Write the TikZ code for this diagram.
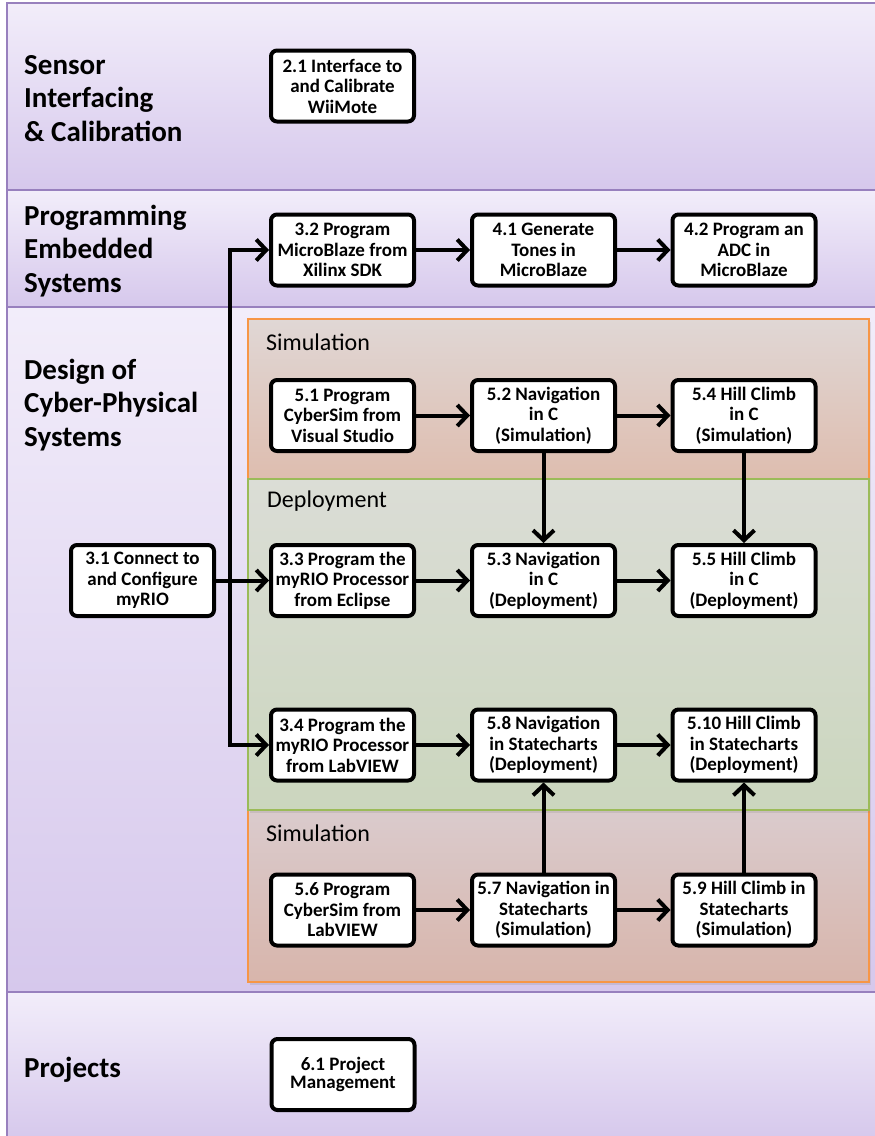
\documentclass[tikz,border=0pt]{standalone}
\usepackage{fontspec}
\setmainfont{Carlito}
\usetikzlibrary{arrows.meta,shadows}
\definecolor{bandtop}{HTML}{F2EDFA}
\definecolor{bandbot}{HTML}{D6C8EC}
\definecolor{bandline}{HTML}{9880BE}
\definecolor{simline}{HTML}{F79646}
\definecolor{simtop}{HTML}{E0D7D5}
\definecolor{simbot}{HTML}{DEBDAF}
\definecolor{simtopb}{HTML}{DACBCD}
\definecolor{simbotb}{HTML}{D8B5AB}
\definecolor{depline}{HTML}{9BBB59}
\definecolor{deptop}{HTML}{DBDDD6}
\definecolor{depbot}{HTML}{CBD6BE}
\begin{document}
\begin{tikzpicture}[x=1pt,y=-1pt,
    band/.style={top color=bandtop,bottom color=bandbot},
    lane/.style={anchor=west,align=left,inner sep=0pt,font=\bfseries\fontsize{29}{33.5}\selectfont},
    phase/.style={anchor=west,inner sep=0pt,font=\fontsize{24}{28}\selectfont},
    frame/.style={line width=2.5pt,drop shadow={shadow xshift=2pt,shadow yshift=-3pt,opacity=0.2}},
    task/.style={draw,line width=4pt,rounded corners=6pt,fill=white,align=center,
      minimum width=143pt,minimum height=71pt,inner sep=1pt,
      font=\bfseries\fontsize{19}{20.5}\selectfont},
    flow/.style={line width=4pt,-{Straight Barb[length=10pt,width=21pt]}}]
  \useasboundingbox (0,0) rectangle (875,1136);
  \path[band] (7,3) rectangle (880,190);
  \path[band] (7,190) rectangle (880,307);
  \path[band] (7,307) rectangle (880,992);
  \path[band] (7,992) rectangle (880,1140);
  \begin{scope}[bandline,line width=2.5pt]
    \draw (7,3) -- (880,3);
    \draw (7,190) -- (880,190);
    \draw (7,307) -- (880,307);
    \draw (7,992) -- (880,992);
    \draw (7,2) -- (7,1140);
  \end{scope}
  \draw[frame,simline,top color=simtop,bottom color=simbot] (248,319) rectangle (869,479);
  \draw[frame,simline,top color=simtopb,bottom color=simbotb] (248,810) rectangle (869,982);
  \draw[frame,depline,top color=deptop,bottom color=depbot] (248,479) rectangle (869,810);
  \node[lane] (l1) at (24,98.5) {Sensor\\Interfacing\\\& Calibration};
  \node[lane] (l2) at (24,251) {Programming\\Embedded\\Systems};
  \node[lane] (l3) at (24,405) {Design of\\Cyber-Physical\\Systems};
  \node[lane] (l4) at (24,1070) {Projects};
  \node[phase] (p1) at (266,342) {Simulation};
  \node[phase] (p2) at (267,501) {Deployment};
  \node[phase] (p3) at (266,833) {Simulation};
  \node[task] (t21) at (342.5,86) {2.1 Interface to\\and Calibrate\\WiiMote};
  \node[task] (t32) at (342.5,250) {3.2 Program\\MicroBlaze from\\Xilinx SDK};
  \node[task] (t41) at (543.5,250) {4.1 Generate\\Tones in\\MicroBlaze};
  \node[task] (t42) at (744,250) {4.2 Program an\\ADC in\\MicroBlaze};
  \node[task] (t51) at (342.5,415.5) {5.1 Program\\CyberSim from\\Visual Studio};
  \node[task] (t52) at (543.5,415.5) {5.2 Navigation\\in C\\(Simulation)};
  \node[task] (t54) at (744,415.5) {5.4 Hill Climb\\in C\\(Simulation)};
  \node[task] (t31) at (142.5,580.5) {3.1 Connect to\\and Configure\\myRIO};
  \node[task] (t33) at (342.5,580.5) {3.3 Program the\\myRIO Processor\\from Eclipse};
  \node[task] (t53) at (543.5,580.5) {5.3 Navigation\\in C\\(Deployment)};
  \node[task] (t55) at (744,580.5) {5.5 Hill Climb\\in C\\(Deployment)};
  \node[task] (t34) at (342.5,745) {3.4 Program the\\myRIO Processor\\from LabVIEW};
  \node[task] (t58) at (543.5,745) {5.8 Navigation\\in Statecharts\\(Deployment)};
  \node[task] (t510) at (744,745) {5.10 Hill Climb\\in Statecharts\\(Deployment)};
  \node[task] (t56) at (342.5,910) {5.6 Program\\CyberSim from\\LabVIEW};
  \node[task] (t57) at (543.5,910) {5.7 Navigation in\\Statecharts\\(Simulation)};
  \node[task] (t59) at (744,910) {5.9 Hill Climb in\\Statecharts\\(Simulation)};
  \node[task,font=\bfseries\fontsize{19}{18.5}\selectfont] (t61) at (343,1074.5) {6.1 Project\\Management};
  \coordinate (split) at (230,580.5);
  \draw[flow] (t31) -- (t33);
  \draw[flow] (split) |- (t32);
  \draw[flow] (split) |- (t34);
  \draw[flow] (t32) -- (t41);
  \draw[flow] (t41) -- (t42);
  \draw[flow] (t51) -- (t52);
  \draw[flow] (t52) -- (t54);
  \draw[flow] (t33) -- (t53);
  \draw[flow] (t53) -- (t55);
  \draw[flow] (t34) -- (t58);
  \draw[flow] (t58) -- (t510);
  \draw[flow] (t56) -- (t57);
  \draw[flow] (t57) -- (t59);
  \draw[flow] (t52) -- (t53);
  \draw[flow] (t54) -- (t55);
  \draw[flow] (t57) -- (t58);
  \draw[flow] (t59) -- (t510);
\end{tikzpicture}
\end{document}
